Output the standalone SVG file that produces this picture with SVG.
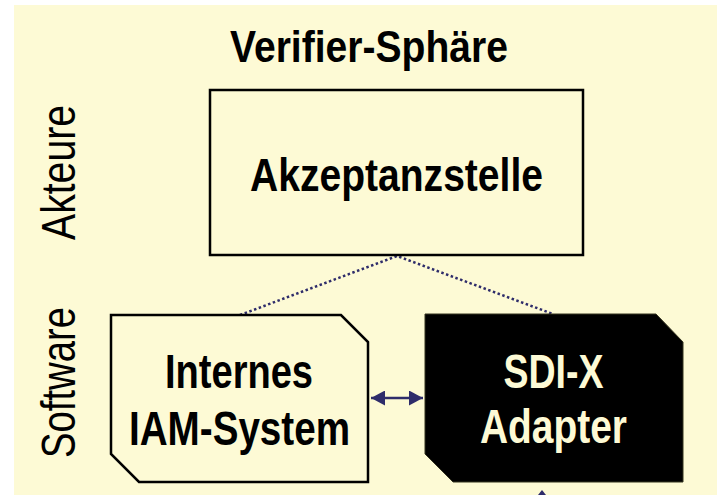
<svg xmlns="http://www.w3.org/2000/svg" width="717" height="495" viewBox="0 0 717 495">
  <style>
    .t { font-family: 'Liberation Sans Narrow', 'Arial Narrow', 'Liberation Sans', Arial, sans-serif; font-size: 48px; text-anchor: middle; }
    .b { font-weight: bold; }
    .dark { fill: #000000; }
    .light { fill: #FDFAD5; }
    .dot { fill: none; stroke: #2E2C6A; stroke-width: 2.5; stroke-dasharray: 2.5 2.5; }
    .arr { fill: none; stroke: #2E2C6A; stroke-width: 2.5; }
  </style>
  <defs>
    <marker id="ah" markerWidth="14" markerHeight="15" refX="14" refY="7.5" orient="auto-start-reverse" markerUnits="userSpaceOnUse">
      <path d="M0,0 L14,7.5 L0,15 Z" fill="#2E2C6A"/>
    </marker>
  </defs>
  <rect x="14" y="5" width="703" height="490" fill="#FDFAD5"/>

  <text class="t b dark" x="369" y="62" style="font-size:44px" textLength="278" lengthAdjust="spacingAndGlyphs">Verifier-Sphäre</text>
  <text class="t dark" transform="translate(75,172.5) rotate(-90)" x="0" y="0" style="font-size:49px" textLength="135" lengthAdjust="spacingAndGlyphs">Akteure</text>
  <text class="t dark" transform="translate(75,382.5) rotate(-90)" x="0" y="0" style="font-size:49px" textLength="151" lengthAdjust="spacingAndGlyphs">Software</text>

  <g id="connectors">
    <polyline class="dot" points="240,315 397,256 553,314"/>
    <line class="arr" x1="371" y1="398" x2="423" y2="398" marker-start="url(#ah)" marker-end="url(#ah)"/>
    <path d="M542,490 L550,500 L534,500 Z" fill="#2E2C6A"/>
  </g>

  <g id="akzeptanzstelle">
    <rect x="210" y="90" width="373" height="165" fill="#FDFAD5" stroke="#000" stroke-width="2.5"/>
    <text class="t b dark" x="396.5" y="191" style="font-size:46px" textLength="293" lengthAdjust="spacingAndGlyphs">Akzeptanzstelle</text>
  </g>

  <g id="iam">
    <path d="M111,315 L341,315 L368,342 L368,482 L139,482 L111,454 Z" fill="#FDFAD5" stroke="#000" stroke-width="2.5"/>
    <text class="t b dark" x="239" y="388" textLength="148" lengthAdjust="spacingAndGlyphs">Internes</text>
    <text class="t b dark" x="239.5" y="445" textLength="221" lengthAdjust="spacingAndGlyphs">IAM-System</text>
  </g>

  <g id="sdix">
    <path d="M425,314 L656,314 L683,342 L683,482 L453,482 L425,454 Z" fill="#000" stroke="#33321F" stroke-width="1"/>
    <text class="t b light" x="553.5" y="388" textLength="100" lengthAdjust="spacingAndGlyphs">SDI-X</text>
    <text class="t b light" x="553.5" y="443" textLength="147" lengthAdjust="spacingAndGlyphs">Adapter</text>
  </g>
</svg>
